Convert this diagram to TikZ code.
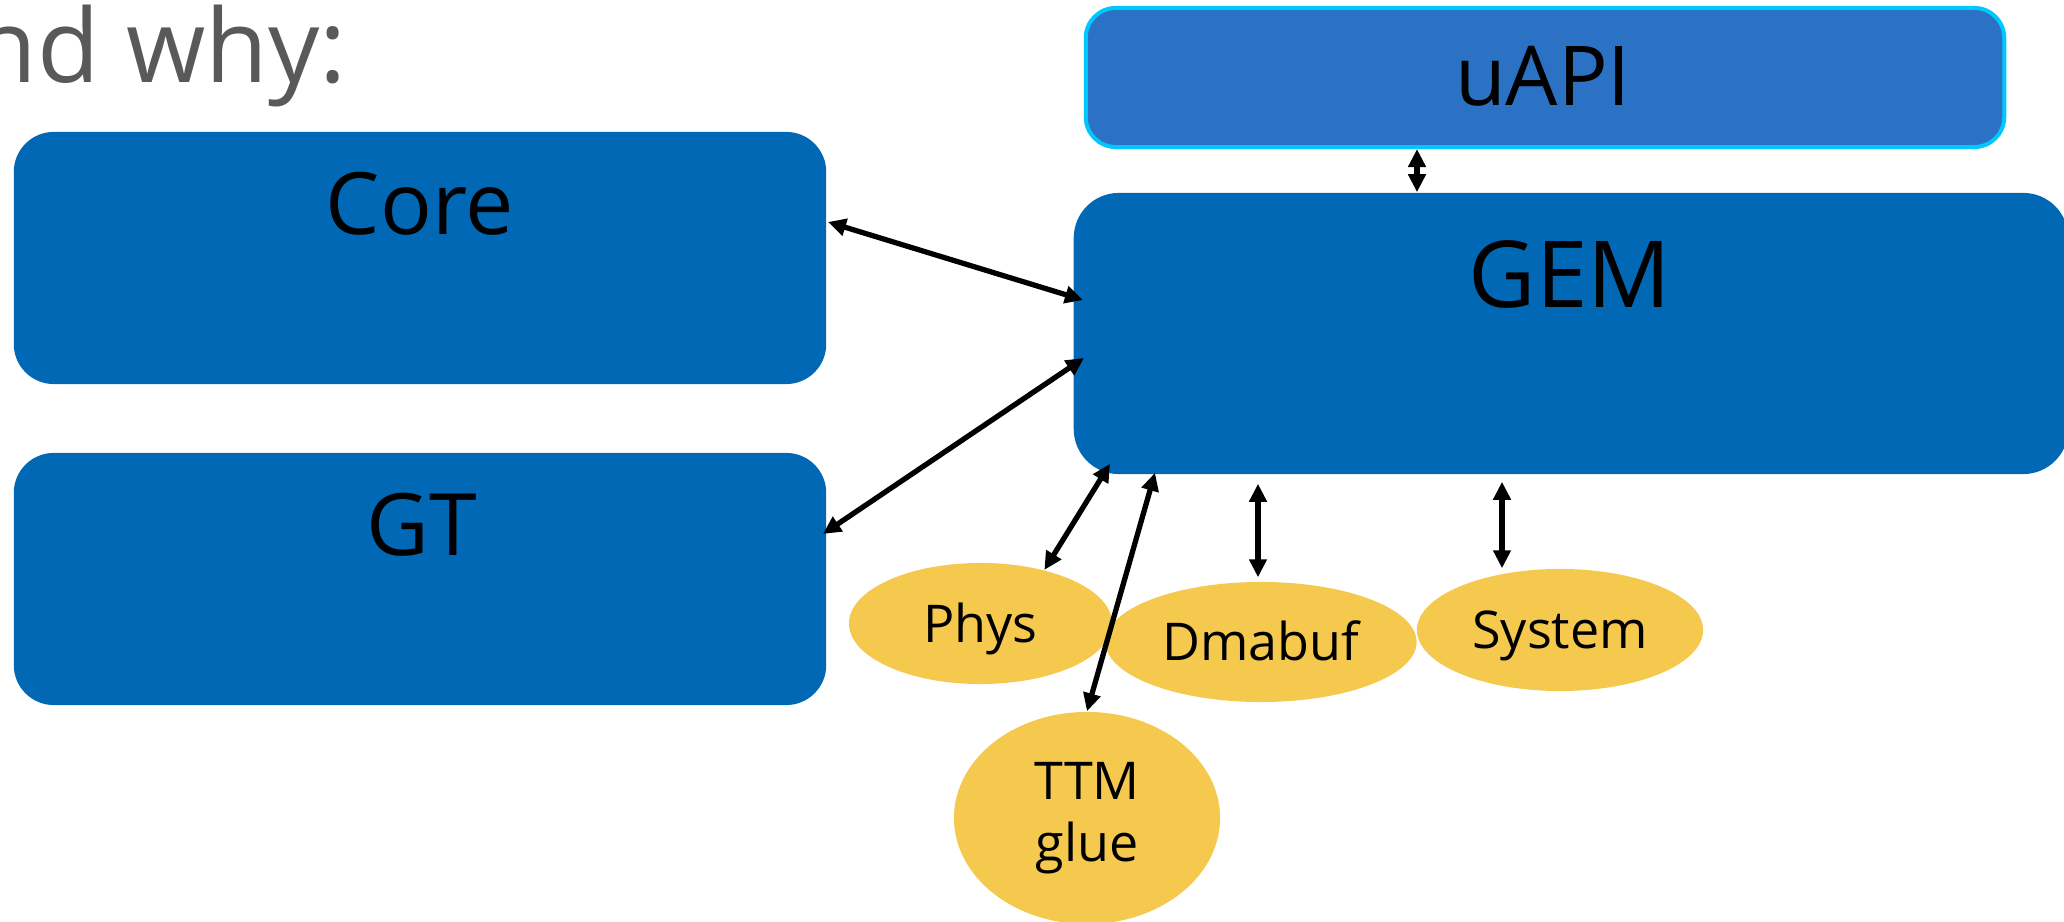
\documentclass[tikz,border=0pt]{standalone}
\usepackage{fontspec}
\setmainfont{Open Sans}
\usetikzlibrary{arrows.meta,calc,shapes.geometric}

\definecolor{blockblue}{HTML}{0068B5}
\definecolor{apiblue}{HTML}{2B72C4}
\definecolor{apiedge}{HTML}{00C7FD}
\definecolor{backend}{HTML}{F5C94D}
\definecolor{headgray}{HTML}{595959}

\tikzset{
  block/.style={rectangle, rounded corners=0.4cm, fill=blockblue, draw=none,
    inner sep=0pt, minimum width=8.12cm, minimum height=2.52cm},
  blocktext/.style={anchor=base, inner sep=0pt, text=black,
    font=\fontsize{24.5pt}{29pt}\selectfont},
  backendnode/.style={ellipse, fill=backend, draw=none, inner sep=0pt,
    text=black, font=\fontsize{14.8pt}{17.6pt}\selectfont,
    text height=0.37cm, text depth=0pt},
  link/.style={line width=1.5pt, draw=black,
    {Triangle[length=0.18cm,width=0.17cm]}-{Triangle[length=0.18cm,width=0.17cm]}},
}

\begin{document}
\begin{tikzpicture}[x=0.01cm, y=-0.01cm]
\useasboundingbox (0,0) rectangle (2064,922);
\clip (0,0) rectangle (2064,922);

% heading fragment
\node[anchor=base west, inner sep=0pt, text=headgray,
      font=\fontsize{29pt}{34pt}\selectfont] (heading) at (-26,83) {nd why:};

% driver blocks
\node[block] (core) at (420,258) {};
\node[blocktext] (coretext) at (420,235) {Core};

\node[block] (gt) at (420,579) {};
\node[blocktext] (gttext) at (422,556) {GT};

\node[block, rounded corners=0.45cm, minimum width=9.94cm, minimum height=2.81cm]
  (gem) at (1571,333.5) {};
\node[blocktext, font=\fontsize{26.3pt}{31pt}\selectfont] (gemtext) at (1570,308) {GEM};

\node[rectangle, rounded corners=0.3cm, fill=apiblue, draw=apiedge, line width=0.04cm,
      inner sep=0pt, minimum width=9.18cm, minimum height=1.39cm]
  (uapi) at (1545,77.5) {};
\node[blocktext, font=\fontsize{23.5pt}{28pt}\selectfont] (uapitext) at (1543,106) {uAPI};

% memory backends
\node[backendnode, minimum width=2.63cm, minimum height=1.21cm] (phys) at (980.5,623.5) {Phys};
\node[backendnode, minimum width=3.11cm, minimum height=1.20cm] (dmabuf) at (1261,642) {Dmabuf};
\node[backendnode, minimum width=2.86cm, minimum height=1.22cm] (system) at (1560,630) {System};
\node[ellipse, fill=backend, draw=none, inner sep=0pt, text=black, align=center,
      font=\fontsize{14.8pt}{17.6pt}\selectfont,
      minimum width=2.66cm, minimum height=2.12cm] (ttm) at (1087,818) {TTM\\glue};

% connections
\draw[link] ($(uapi.south)+(-128,0)$) -- ($(gem.north)+(-154,0)$);
\draw[link] ($(core.east)+(1,-36)$) -- ($(gem.west)+(10,-33.5)$);
\draw[link] ($(gt.east)+(-4,-45)$) -- ($(gem.west)+(11,24.5)$);
\draw[link] (phys.40) -- ($(gem.south west)+(37,-11)$);
\draw[link] (ttm.north) -- ($(gem.south west)+(82,-2)$);
\draw[link] ($(dmabuf.north)+(-3,-4)$) -- ($(gem.south)+(-313,9)$);
\draw[link] ($(system.north)+(-58,0)$) -- ($(gem.south)+(-69,7)$);
\end{tikzpicture}
\end{document}
